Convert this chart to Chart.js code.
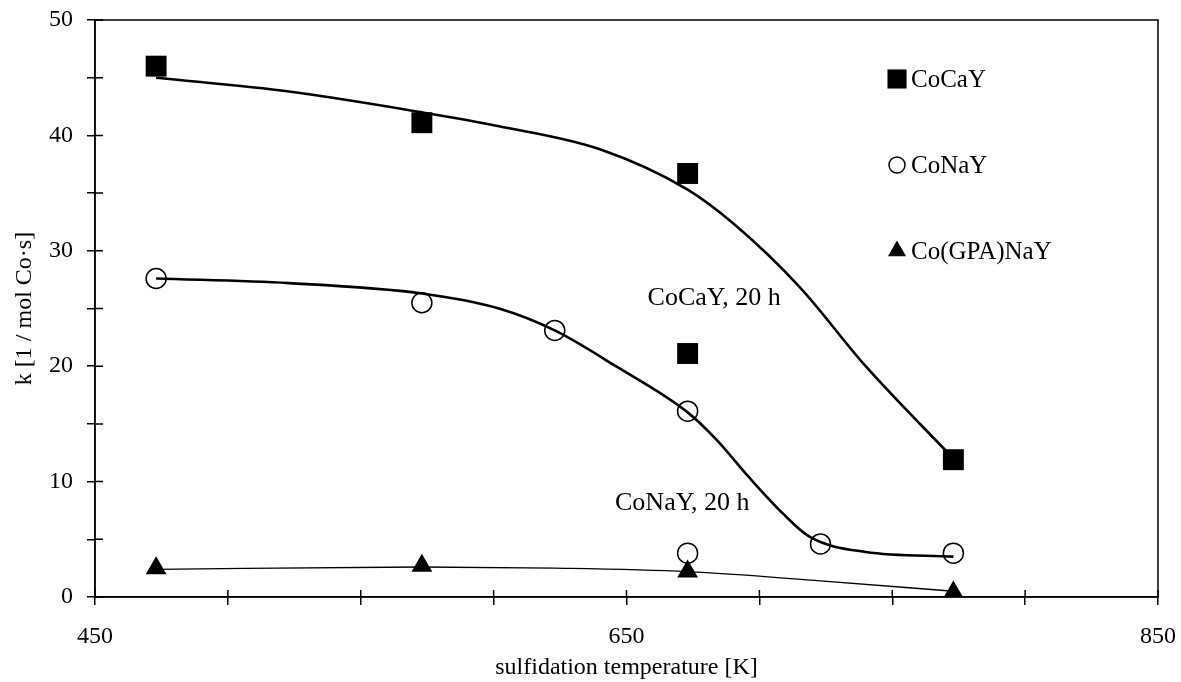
<!DOCTYPE html>
<html>
<head>
<meta charset="utf-8">
<script src="https://cdn.jsdelivr.net/npm/chart.js@4.4.1/dist/chart.umd.min.js"></script>
<style>
    html, body { margin: 0; padding: 0; background: #fff; }
    #wrap { width: 1181px; height: 682px; position: relative; }
</style>
</head>
<body>
<div id="wrap"><canvas id="kChart"></canvas></div>
<script>
// measured points
const tempCoCaY = [473, 573, 673, 773];
const kCoCaY = [46.0, 41.1, 36.7, 11.9];
const tempCoCaY20h = [673];
const kCoCaY20h = [21.1];

const tempCoNaY = [473, 573, 623, 673, 723, 773];
const kCoNaY = [27.6, 25.5, 23.1, 16.1, 4.6, 3.8];
const tempCoNaY20h = [673];
const kCoNaY20h = [3.8];

const tempGPA = [473, 573, 673, 773];
const kGPA = [2.5, 2.7, 2.2, 0.4];

// trend curves
const curveCoCaYT = [473, 523, 573, 602, 640, 673, 690, 715, 740, 773];
const curveCoCaYK = [45.0, 43.8, 42.0, 40.8, 38.8, 35.3, 32.4, 26.9, 20.0, 12.0];
const curveCoNaYT = [473, 523, 573, 602, 623, 646, 673, 684, 696, 709, 719, 740, 773];
const curveCoNaYK = [27.6, 27.2, 26.3, 25.0, 23.1, 20.0, 16.0, 13.6, 10.4, 7.2, 5.2, 3.9, 3.5];
const curveGPAT = [473, 573, 623, 673, 723, 773];
const curveGPAK = [2.4, 2.6, 2.5, 2.2, 1.4, 0.5];

const xTickLabels = [450, 650, 850];
const yTickLabels = [0, 10, 20, 30, 40, 50];

const serif = "'Liberation Serif', 'Times New Roman', serif";

function pts(xs, ys) {
    return xs.map((x, i) => ({ x: x, y: ys[i] }));
}

function curve(xs, ys, w) {
    return {
        data: pts(xs, ys),
        showLine: true,
        pointRadius: 0,
        borderColor: "#000",
        borderWidth: w,
        cubicInterpolationMode: "monotone"
    };
}

const legendItems = [
    { text: "CoCaY", y: 79, style: "rect", radius: 13.5, fill: "#000", border: 0 },
    { text: "CoNaY", y: 165, style: "circle", radius: 8, fill: "rgba(0,0,0,0)", border: 1.5 },
    { text: "Co(GPA)NaY", y: 251, style: "triangle", radius: 10.5, fill: "#000", border: 0 }
];

const notes = [
    { text: "CoCaY, 20 h", x: 683, y: 25.9 },
    { text: "CoNaY, 20 h", x: 671, y: 8.1 }
];

const extras = {
    id: "extras",
    afterDraw(chart) {
        const { ctx, chartArea: a, scales: { x, y } } = chart;
        ctx.save();
        ctx.strokeStyle = "#000";
        ctx.lineWidth = 1.5;
        ctx.strokeRect(a.left, a.top, a.right - a.left, a.bottom - a.top);
        ctx.beginPath();
        x.ticks.forEach(t => {
            const px = x.getPixelForValue(t.value);
            ctx.moveTo(px, a.bottom);
            ctx.lineTo(px, a.bottom - 7);
        });
        y.ticks.forEach(t => {
            const py = y.getPixelForValue(t.value);
            ctx.moveTo(a.left, py);
            ctx.lineTo(a.left + 8, py);
        });
        ctx.stroke();

        ctx.fillStyle = "#000";
        ctx.font = "25px " + serif;
        ctx.textBaseline = "middle";
        ctx.textAlign = "left";
        legendItems.forEach(it => {
            ctx.fillStyle = it.fill;
            Chart.helpers.drawPoint(ctx, { pointStyle: it.style, radius: it.radius, borderWidth: it.border, rotation: 0 }, 897, it.y);
            ctx.fillStyle = "#000";
            ctx.fillText(it.text, 911, it.y + 1);
        });

        ctx.font = "26px " + serif;
        ctx.textAlign = "center";
        notes.forEach(n => {
            ctx.fillText(n.text, x.getPixelForValue(n.x), y.getPixelForValue(n.y));
        });
        ctx.restore();
    }
};

const axisGrid = { drawOnChartArea: false, drawTicks: true, tickLength: 8, color: "#000", lineWidth: 1.5 };

new Chart(document.getElementById("kChart"), {
    type: "scatter",
    data: {
        datasets: [
            { data: pts(tempCoCaY, kCoCaY), pointStyle: "rect", pointRadius: 14.8, backgroundColor: "#000", borderWidth: 0 },
            { data: pts(tempCoCaY20h, kCoCaY20h), pointStyle: "rect", pointRadius: 14.8, backgroundColor: "#000", borderWidth: 0 },
            { data: pts(tempCoNaY, kCoNaY), pointStyle: "circle", pointRadius: 10, backgroundColor: "rgba(0,0,0,0)", borderColor: "#000", borderWidth: 1.5 },
            { data: pts(tempCoNaY20h, kCoNaY20h), pointStyle: "circle", pointRadius: 10, backgroundColor: "rgba(0,0,0,0)", borderColor: "#000", borderWidth: 1.5 },
            { data: pts(tempGPA, kGPA), pointStyle: "triangle", pointRadius: 12, backgroundColor: "#000", borderWidth: 0 },
            curve(curveCoCaYT, curveCoCaYK, 2.6),
            curve(curveCoNaYT, curveCoNaYK, 2.6),
            curve(curveGPAT, curveGPAK, 1.3)
        ]
    },
    options: {
        responsive: true,
        maintainAspectRatio: false,
        animation: false,
        layout: { padding: { top: 20, right: 23, left: 0, bottom: 0 } },
        plugins: {
            legend: { display: false },
            tooltip: { enabled: false }
        },
        scales: {
            x: {
                type: "linear",
                min: 450,
                max: 850,
                afterFit: s => {
                    s.height = 85;
                    s.paddingLeft = 0;
                    s.paddingRight = 0;
                },
                grid: axisGrid,
                border: { color: "#000", width: 1.5 },
                ticks: {
                    stepSize: 50,
                    autoSkip: false,
                    maxRotation: 0,
                    padding: 17,
                    color: "#000",
                    font: { family: serif, size: 24 },
                    callback: v => xTickLabels.includes(v) ? v : ""
                },
                title: {
                    display: true,
                    text: "sulfidation temperature [K]",
                    color: "#000",
                    font: { family: serif, size: 24 },
                    padding: 0
                }
            },
            y: {
                min: 0,
                max: 50,
                afterFit: s => {
                    s.width = 95;
                    s.paddingTop = 0;
                    s.paddingBottom = 0;
                },
                grid: axisGrid,
                border: { color: "#000", width: 1.5 },
                ticks: {
                    stepSize: 5,
                    padding: 14,
                    color: "#000",
                    font: { family: serif, size: 24 },
                    callback: v => yTickLabels.includes(v) ? v : ""
                },
                title: {
                    display: true,
                    text: "k [1 / mol Co·s]",
                    color: "#000",
                    font: { family: serif, size: 24 },
                    padding: { top: 10, bottom: 0 }
                }
            }
        }
    },
    plugins: [extras]
});
</script>
</body>
</html>
